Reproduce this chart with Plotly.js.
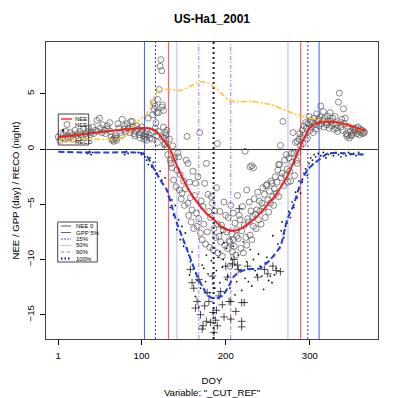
<!DOCTYPE html>
<html><head><meta charset="utf-8">
<script src="https://cdn.plot.ly/plotly-3.0.1.min.js"></script>
<style>html,body{margin:0;padding:0;background:#fff}#chart{width:400px;height:398px}</style>
</head><body><div id="chart"></div>
<script>
// ---------- data ----------
const xTicks = [1, 100, 200, 300];
const yTicks = [-15, -10, -5, 0, 5];

// smoothed NEE (red)
const neeDay = [1,20,46,70,90,105,115,120,126,131,136,142,148,154,162,170,178,186,194,202,210,218,225,233,241,249,257,265,273,280,287,294,301,310,320,330,340,352,366];
const neeVal = [1.1,1.25,1.5,1.7,1.85,1.9,1.75,1.4,0.84,0.3,-0.36,-1.5,-2.5,-3.4,-4.4,-5.2,-5.9,-6.4,-7.0,-7.3,-7.4,-7.2,-6.86,-6.4,-5.8,-5.1,-4.4,-3.5,-2.5,-1.3,-0.06,1.1,2.0,2.4,2.5,2.45,2.3,2.0,1.65];

// RECO (yellow dash-dot)
const recoDay = [1,40,70,80,85,93,100,105,110,114,118,124,134,146,158,165,170,178,185,190,197,204,215,230,245,255,265,275,285,301,325,348,366];
const recoVal = [1.0,0.9,0.9,1.1,1.45,2.3,2.8,3.1,3.7,4.6,5.1,5.4,5.4,5.3,5.7,6.0,6.1,6.0,5.7,5.4,4.9,4.4,4.3,4.3,4.17,4.0,3.7,3.4,3.1,2.8,2.5,2.05,1.5];

// GPP (blue dashed)
const gppDay = [1,30,60,90,100,106,110,114,118,124,130,136,142,148,154,160,166,172,178,184,190,197,203,209,215,225,241,253,265,273,281,289,297,305,312,321,336,350,364];
const gppVal = [-0.25,-0.3,-0.3,-0.3,-0.35,-0.6,-1.1,-1.7,-2.2,-3.0,-3.7,-5.2,-6.7,-7.9,-9.1,-10.3,-11.5,-12.4,-13.2,-13.5,-13.5,-13.2,-12.5,-11.6,-11.2,-10.9,-10.8,-10.0,-8.8,-6.4,-5.0,-3.1,-1.9,-1.3,-0.9,-0.4,-0.36,-0.45,-0.5];

// open circles (NEE)
const circDay = [1,3,4,6,7,9,10,12,13,15,16,18,19,21,22,24,25,27,28,30,31,33,34,36,37,39,40,42,43,45,47,48,50,51,53,54,56,57,59,60,62,63,64,65,66,67,68,69,70,71,72,73,75,76,77,79,80,81,83,84,86,87,88,89,90,91,92,93,94,96,97,98,99,100,101,102,103,104,105,106,107,108,109,110,
111,112,113,114,115,116,116,117,118,118,119,119,120,120,121,122,123,124,124,125,125,126,126,127,127,128,128,129,130,130,
131,133,134,135,136,137,138,139,141,142,143,144,145,146,147,148,150,151,152,153,154,155,155,156,157,158,159,160,
161,162,163,164,165,166,167,168,169,170,171,172,173,174,175,176,177,178,179,180,181,182,183,184,185,186,187,188,189,190,190,191,192,193,194,195,196,197,198,199,200,
201,202,203,204,205,205,206,207,208,209,209,210,211,212,213,213,214,215,216,217,218,219,220,221,222,223,224,225,225,226,227,228,229,229,230,231,231,232,233,233,234,235,236,237,238,239,240,
241,242,243,244,245,246,247,248,249,250,251,252,253,254,255,256,257,258,259,260,261,262,263,263,264,265,266,267,268,269,270,271,272,273,274,275,276,277,278,279,280,281,282,283,284,285,285,286,287,288,289,290,291,292,293,294,295,296,297,298,299,300,
301,302,303,304,305,306,307,308,309,310,311,312,313,314,315,316,317,318,319,320,321,322,323,324,325,326,327,328,329,330,331,332,333,334,335,336,337,338,339,340,341,342,343,344,345,346,347,348,349,350,351,352,353,354,355,356,357,358,359,360,361,362,363,364,365];
const circVal = [1.1,0.8,1.4,1.0,1.3,0.9,1.6,1.2,1.0,1.5,1.1,1.3,0.9,1.7,1.2,1.4,1.0,1.6,1.3,1.1,1.8,1.4,1.2,1.6,1.9,1.3,1.5,2.0,1.4,1.7,2.6,1.6,2.8,1.9,1.5,2.2,1.7,1.4,2.1,1.8,2.4,1.6,1.1,0.8,0.9,0.7,1.0,1.2,0.8,1.0,2.3,1.9,1.5,1.2,2.7,1.8,2.1,1.6,2.3,1.9,1.5,2.5,1.8,2.5,2.0,1.4,1.2,1.6,2.1,1.8,1.3,1.0,1.5,2.0,1.7,1.2,0.9,1.4,1.1,0.8,1.6,2.8,1.3,1.0,
1.5,0.9,3.1,4.2,3.6,3.9,1.9,2.4,1.2,3.3,4.5,0.6,3.3,1.6,5.4,7.5,8.1,7.1,3.8,4.0,1.1,2.0,3.5,1.0,0.4,1.5,0.5,1.3,0.2,1.7,
-0.5,0.9,-1.0,-1.3,-1.7,0.3,-2.8,-0.8,-3.4,-1.9,-0.35,-0.7,-3.7,-2.3,-4.5,-4.0,-2.9,-5.1,-3.6,-1.0,1.15,-4.9,-1.3,-6.0,-3.0,-4.4,-6.6,-5.5,
-2.0,-7.2,-4.2,-3.1,-5.8,-7.0,-2.5,-6.3,1.5,-7.6,-4.7,-8.2,-5.2,-6.8,-3.1,-8.6,-1.3,-7.5,-4.1,-5.65,-8.9,-6.2,-4.3,-4.9,-9.1,-7.2,-5.6,-8.0,-3.5,0.5,-6.8,-9.4,-7.9,-5.65,-8.4,-6.9,-9.7,-7.3,-4.8,-8.7,-6.0,
-7.5,-9.0,-6.2,-8.3,-8.4,-10.6,-5.1,-7.7,-9.3,-8.2,-5.8,-8.8,-6.7,-9.6,-7.3,-7.9,-4.2,-8.1,-6.0,-6.4,-9.0,-7.4,-5.2,-9.4,-6.9,-0.2,-8.0,-3.7,-8.7,-6.3,-6.6,-4.8,-7.8,-1.6,-5.6,-8.2,-1.5,-6.1,-7.0,-1.7,-4.5,-5.9,-7.2,-5.5,-3.9,-6.4,-4.7,
-5.6,-6.8,-4.9,-3.5,-5.3,-4.1,-6.2,-3.3,-3.2,-4.6,-5.7,-3.8,-4.9,-2.9,-3.1,-4.3,-5.1,-3.6,-2.5,-4.0,-3.0,-1.9,-1.4,-4.3,-1.4,0.33,-2.6,-2.2,2.5,-3.3,-1.0,-2.4,-0.5,-1.8,-3.0,-0.8,-2.0,-2.9,-0.4,-1.2,1.5,-0.36,-2.4,0.6,-1.0,-1.3,0.7,-0.3,0.9,1.4,0.3,1.1,1.75,0.5,2.1,1.3,2.4,1.9,1.0,2.3,2.95,1.7,
2.6,2.0,2.4,1.5,2.8,2.2,1.8,3.2,2.5,2.7,2.1,2.9,3.9,2.3,2.6,3.4,2.0,2.8,2.4,2.2,3.0,2.6,1.9,3.3,2.5,2.1,2.8,2.3,1.8,2.95,2.2,1.9,1.6,4.25,5.07,2.4,2.0,2.7,1.7,3.65,2.3,2.8,1.4,1.15,1.3,2.05,1.0,1.6,1.2,1.3,1.9,1.5,1.7,1.75,1.9,1.4,2.0,1.6,1.3,1.8,1.5,1.7,1.4,1.6,1.5];

// small filled dots
const dotDay = [34,36,38,40,42,78,80,82,84,96,100,102,104,106,108,110,112,114,116,118,120,122,124,126,128,130,132,134,136,138,140,142,144,146,148,150,152,154,156,157,158,160,162,164,166,168,170,172,174,176,177,179,181,183,185,187,189,191,193,193,195,196,197,198,200,201,203,205,207,209,211,211,213,215,217,219,221,223,225,227,229,231,233,235,237,239,241,243,245,247,249,251,253,255,256,257,258,260,262,264,266,267,269,271,273,275,277,279,281,283,285,287,289,291,293,295,297,299,301,303,305,307,310,313,316,319,322,325,328,331,334,337,340,343,346,349,352,355,358,361];
const dotVal = [-0.3,-0.4,-0.2,-0.5,-0.3,-0.3,-0.5,-0.2,-0.4,-0.3,-0.5,-0.4,-0.7,-1.0,-1.4,-0.8,-1.6,-1.2,-1.9,-2.2,-2.5,-2.0,-2.8,-3.2,-2.6,-3.8,-4.3,-5.3,-4.6,-6.0,-5.1,-7.3,-6.4,-8.2,-7.0,-8.8,-7.6,-9.0,-9.6,-11.4,-10.2,-9.3,-10.8,-13.35,-11.9,-14.3,-12.6,-10.5,-10.8,-12.0,-9.6,-11.3,-13.0,-10.1,-12.2,-12.6,-11.0,-9.8,-9.3,-12.1,-7.6,-10.7,-10.0,-8.5,-11.8,-9.0,-11.5,-12.6,-9.9,-8.8,-10.5,-13.2,-12.0,-9.6,-11.0,-12.8,-8.4,-11.7,-10.2,-12.0,-9.1,-12.4,-10.0,-11.0,-11.4,-9.5,-10.6,-11.5,-12.7,-10.3,-9.8,-11.9,-11.5,-12.1,-7.85,-9.7,-11.4,-10.8,-8.6,-9.0,-7.4,-6.6,-8.0,-7.0,-6.7,-5.65,-6.2,-4.8,-5.3,-3.9,-4.4,-2.9,-4.0,-3.0,-2.2,-1.8,-2.4,-1.3,-0.8,-1.0,-0.5,-0.7,-0.4,-0.6,-0.3,-0.8,-0.5,-0.4,-0.6,-0.3,-0.5,-0.7,-0.4,-0.6,-0.3,-0.5,-0.4,-0.6,-0.3,-0.5];

// plus signs
const plusDay = [158,160,162,164,166,168,170,172,173,175,177,178,180,182,184,185,186,188,189,190,192,194,196,198,200,202,204,206,206,208,210,212,214,215,216,219,219,219,222,226,238,246,250,256,260,265];
const plusVal = [-10.9,-12.1,-12.6,-14.4,-13.8,-11.8,-15.0,-16.3,-16.0,-14.2,-15.6,-13.0,-13.8,-15.7,-11.5,-14.8,-16.6,-15.5,-14.6,-16.0,-13.3,-12.9,-14.1,-15.2,-10.6,-11.6,-13.8,-13.8,-15.4,-10.4,-10.0,-14.7,-10.5,-10.9,-5.4,-13.9,-15.6,-16.1,-13.9,-10.6,-11.6,-10.9,-11.3,-10.6,-11.0,-11.1];

// season markers (DOY)
const dayNEE0 = [132, 289];
const dayGPP5 = [103.4, 311];
const dayGPP15 = [116.5, 297.6];
const dayGPP50 = [142, 274];
const dayGPP90 = [168, 206];
const dayGPP100 = [185.6];

// ---------- styling ----------
const FONT = 'Liberation Sans, Arial, Helvetica, sans-serif';
const vstyle = [
  {days: dayGPP5,   color:'#3b5bff', width:1,   dash:'solid'},
  {days: dayGPP15,  color:'#2b3bdd', width:1,   dash:'2px,2px'},
  {days: dayNEE0,   color:'#f06a6a', width:1.2, dash:'solid'},
  {days: dayGPP50,  color:'#b8b8f0', width:1,   dash:'solid'},
  {days: dayGPP90,  color:'#b36bff', width:1,   dash:'4px,2px,1px,2px'},
  {days: dayGPP100, color:'#14147a', width:2,   dash:'2px,3px'}
];

const shapes = [];
vstyle.forEach(s => s.days.forEach(d => shapes.push({
  type:'line', xref:'x', yref:'paper', x0:d, x1:d, y0:0, y1:1,
  line:{color:s.color, width:s.width, dash:s.dash}, layer:'below'
})));

// pixel helpers for legends (plot area: x 46..378, y 42..339)
const PX = p => (p - 46) / 332;
const PY = p => (339 - p) / 297;
const annotations = [];
function legLine(y, color, width, dash, x0, x1){
  shapes.push({type:'line', xref:'paper', yref:'paper', x0:PX(x0), x1:PX(x1), y0:PY(y), y1:PY(y), line:{color, width, dash}});
}
function legText(x, y, t){
  annotations.push({xref:'paper', yref:'paper', x:PX(x), y:PY(y), xanchor:'left', yanchor:'middle', text:t, showarrow:false, font:{family:FONT, size:6, color:'#000'}});
}
function legBox(x0,y0,x1,y1){
  shapes.push({type:'rect', xref:'paper', yref:'paper', x0:PX(x0), x1:PX(x1), y0:PY(y1), y1:PY(y0), line:{color:'#444', width:1}});
}
// legend 1
legBox(58.3,114,88.7,145);
legLine(119,'#ff3030',1.5,'solid',61,72); legText(73,119,'NEE');
shapes.push({type:'circle', xref:'paper', yref:'paper', x0:PX(64), x1:PX(70), y0:PY(127.5), y1:PY(121.5), line:{color:'#555', width:0.7}});
legText(73,124.5,'NEE');
shapes.push({type:'circle', xref:'paper', yref:'paper', x0:PX(62), x1:PX(64), y0:PY(131), y1:PY(129), fillcolor:'#111', line:{color:'#111', width:0.5}});
legLine(142,'#ffc125',1.5,'4px,2px,1px,2px',61,72); legText(73,142,'RECO');
// legend 2
legBox(57.7,222,97.3,262);
legLine(226,'#555',1,'solid',61,71); legText(74,226,'NEE 0');
legLine(232.5,'#667',1,'solid',61,71); legText(74,232.5,'GPP 5%');
legLine(239,'#3b5bff',1,'2px,1px',61,71); legText(74,239,'15%');
legLine(245.5,'#c0c0f0',1,'solid',61,71); legText(74,245.5,'50%');
legLine(252,'#b36bff',1,'3px,1px,1px,1px',61,71); legText(74,252,'90%');
legLine(258.5,'#14147a',2,'1.5px,2px',61,71); legText(74,258.5,'100%');

// y axis title as rotated annotation
annotations.push({xref:'paper', yref:'paper', x:PX(15), y:0.5, xanchor:'center', yanchor:'middle', textangle:-90,
  text:'NEE / GPP (day) / RECO (night)', showarrow:false, font:{family:FONT, size:9.6, color:'#000'}});

const traces = [
  {x:circDay, y:circVal, type:'scatter', mode:'markers', marker:{symbol:'circle-open', size:6, color:'#555', line:{width:0.7}}, hoverinfo:'skip'},
  {x:dotDay, y:dotVal, type:'scatter', mode:'markers', marker:{symbol:'circle', size:1.8, color:'#111'}, hoverinfo:'skip'},
  {x:plusDay, y:plusVal, type:'scatter', mode:'markers', marker:{symbol:'cross-thin-open', size:5.5, color:'#222', line:{width:0.8}}, hoverinfo:'skip'},
  {x:recoDay, y:recoVal, type:'scatter', mode:'lines', line:{color:'#ffc125', width:1.5, dash:'6px,2px,2px,2px', shape:'spline', smoothing:0.8}, hoverinfo:'skip'},
  {x:gppDay, y:gppVal, type:'scatter', mode:'lines', line:{color:'#1f3cf0', width:2, dash:'6px,3px', shape:'spline', smoothing:0.6}, hoverinfo:'skip'},
  {x:neeDay, y:neeVal, type:'scatter', mode:'lines', line:{color:'#ee2222', width:2, shape:'spline', smoothing:0.8}, hoverinfo:'skip'}
];

const layout = {
  width:400, height:398,
  margin:{l:46, r:22, t:42, b:59},
  paper_bgcolor:'#fff', plot_bgcolor:'#fff',
  showlegend:false,
  font:{family:FONT, color:'#000'},
  title:{text:'<b>US-Ha1_2001</b>', font:{family:FONT, size:12, color:'#000'}, x:0.5, xref:'paper', y:1-19/398, yref:'container', yanchor:'middle'},
  xaxis:{range:[-13.6, 381], tickvals:xTicks, ticktext:xTicks.map(String), ticks:'outside', ticklen:5, tickcolor:'#000',
    showline:true, mirror:true, linecolor:'#444', linewidth:1, showgrid:false, zeroline:false, ticklabelstandoff:2,
    tickfont:{family:FONT, size:9.6, color:'#000'},
    title:{text:'DOY<br>Variable: "_CUT_REF"', font:{family:FONT, size:9.6, color:'#000'}, standoff:17}},
  yaxis:{range:[-17.2, 9.7], tickvals:yTicks, ticktext:yTicks.map(v=>v<0?'\u2212'+Math.abs(v):String(v)), ticks:'outside', ticklen:5, tickcolor:'#000', tickangle:-90,
    showline:true, mirror:true, linecolor:'#444', linewidth:1, showgrid:false, ticklabelstandoff:2,
    zeroline:true, zerolinecolor:'#333', zerolinewidth:1,
    tickfont:{family:FONT, size:9.6, color:'#000'}},
  shapes, annotations
};

Plotly.newPlot('chart', traces, layout, {displayModeBar:false, staticPlot:true});
</script></body></html>
